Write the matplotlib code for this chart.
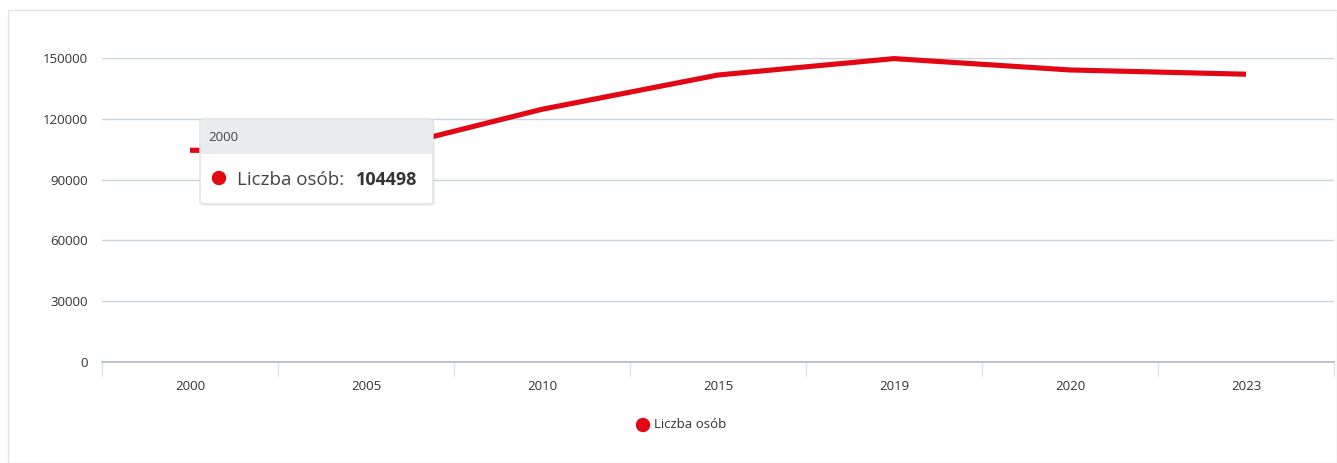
import matplotlib.pyplot as plt
from matplotlib.patches import FancyBboxPatch, Rectangle, Circle

W, H = 1337, 463

years = ["2000", "2005", "2010", "2015", "2019", "2020", "2023"]
liczba_osob = [104498, 103000, 124700, 141600, 149700, 144100, 142000]
y_ticks = [0, 30000, 60000, 90000, 120000, 150000]
series_name = "Liczba osób"

RED = "#e30613"
GRID = "#c9d3dc"
TEXT = "#333333"

plt.rcParams["font.family"] = ["Open Sans", "DejaVu Sans"]


def px(x, y):
    # pixel coords (top-left origin) -> figure fraction
    return x / W, 1 - y / H


fig = plt.figure(figsize=(W / 100, H / 100), dpi=100)

# outer frame of the page widget
fig.add_artist(Rectangle(px(8, 463), (1337 - 8) / W, (463 - 10) / H,
                         transform=fig.transFigure, fill=False,
                         edgecolor="#e3e3e3", linewidth=1))

ax = fig.add_axes([102 / W, 1 - 362 / H, (1334 - 102) / W, (362 - 58) / H])
x = range(len(years))
ax.plot(x, liczba_osob, color=RED, linewidth=3.7, solid_capstyle="butt",
        clip_on=False, zorder=3)

ax.set_xlim(-0.5, len(years) - 0.5)
ax.set_ylim(0, 150000)
ax.set_yticks(y_ticks)
ax.set_yticklabels([str(v) for v in y_ticks], fontsize=9.5, color=TEXT)
ax.grid(axis="y", color=GRID, linewidth=1)
ax.tick_params(axis="y", length=0, pad=10)

# category ticks sit on band boundaries, labels at centres
ax.set_xticks([i - 0.5 for i in range(len(years) + 1)])
ax.set_xticklabels([""] * (len(years) + 1))
ax.tick_params(axis="x", length=10, color="#e0e4e8", width=1)
for i, yr in enumerate(years):
    ax.text(i, -0.08, yr, transform=ax.get_xaxis_transform(), ha="center",
            va="center", fontsize=9.5, color=TEXT)

for s in ["top", "right", "left"]:
    ax.spines[s].set_visible(False)
ax.spines["bottom"].set_color("#b0bac4")
ax.spines["bottom"].set_linewidth(1.2)

# legend
fig.add_artist(Circle((643, H - 425), 6.5, transform=None, color=RED))
fig.text(*px(654, 425), series_name, fontsize=9.5, color=TEXT, va="center")

# tooltip for the first point
tx0, ty0, tw, th = 200, 119, 233, 85
shadow = FancyBboxPatch(px(tx0 + 2, ty0 + th + 2), tw / W, th / H,
                        boxstyle="round,pad=0,rounding_size=0.004",
                        transform=fig.transFigure, facecolor="#000000",
                        alpha=0.06, edgecolor="none", zorder=9)
box = FancyBboxPatch(px(tx0, ty0 + th), tw / W, th / H,
                     boxstyle="round,pad=0,rounding_size=0.004",
                     transform=fig.transFigure, facecolor="white",
                     edgecolor="#dcdfe3", linewidth=1, zorder=10)
header = Rectangle(px(tx0 + 1, ty0 + 35), (tw - 2) / W, 34 / H,
                   transform=fig.transFigure, facecolor="#e9ecef",
                   edgecolor="none", zorder=11)
fig.add_artist(shadow)
fig.add_artist(box)
fig.add_artist(header)
fig.text(*px(208, 137), years[0], fontsize=9.5, color="#444444",
         va="center", zorder=12)
fig.add_artist(Circle((219, H - 178), 6.5, transform=None, color=RED,
                      zorder=12))
fig.text(*px(237, 180), series_name + ":", fontsize=13.5, color="#444444",
         va="center", zorder=12)
fig.text(*px(356, 180), str(liczba_osob[0]), fontsize=13,
         fontweight="bold", color="#333333", va="center", zorder=12)

fig.savefig("out.png", dpi=100)
